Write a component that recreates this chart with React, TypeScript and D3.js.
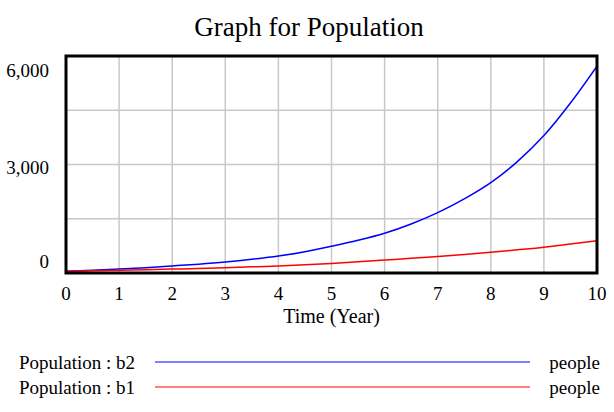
import { useEffect, useRef } from 'react'
import * as d3 from 'd3'

const years = [0, 0.5, 1, 1.5, 2, 2.5, 3, 3.5, 4, 4.5, 5, 5.5, 6, 6.5, 7, 7.5, 8, 8.5, 9, 9.5, 10]
const popB2 = [50, 78, 110, 148, 195, 245, 305, 380, 470, 590, 740, 905, 1100, 1355, 1670, 2050, 2500, 3080, 3800, 4700, 5720]
const popB1 = [48, 60, 74, 90, 108, 126, 147, 170, 195, 228, 265, 310, 358, 405, 458, 512, 572, 640, 712, 800, 892]
const xTicks = [0, 1, 2, 3, 4, 5, 6, 7, 8, 9, 10]
const yGrid = [0, 1500, 3000, 4500, 6000]
const yLabels = [0, 3000, 6000]
const series = [
  { name: 'Population : b2', unit: 'people', values: popB2, color: '#0000ff' },
  { name: 'Population : b1', unit: 'people', values: popB1, color: '#ff0000' },
]

const W = 614
const H = 412
const FONT = '"Liberation Serif", "Times New Roman", serif'

const App = () => {
  const svgRef = useRef<SVGSVGElement>(null)

  useEffect(() => {
    if (!svgRef.current) return
    const svg = d3.select(svgRef.current)
    svg.selectAll('*').remove()

    const plot = { left: 66, right: 597, top: 56, bottom: 273 }
    const x = d3.scaleLinear().domain([0, 10]).range([plot.left, plot.right])
    const y = d3.scaleLinear().domain([0, 6000]).range([plot.bottom, plot.top])

    svg.append('rect').attr('width', W).attr('height', H).attr('fill', '#fff')

    // title
    svg.append('text')
      .attr('x', 309).attr('y', 36)
      .attr('text-anchor', 'middle')
      .style('font-family', FONT).style('font-size', '27px')
      .text('Graph for Population')

    // grid
    svg.append('g').selectAll('line.v')
      .data(xTicks)
      .enter().append('line')
      .attr('x1', d => x(d)).attr('x2', d => x(d))
      .attr('y1', plot.top).attr('y2', plot.bottom)
      .style('stroke', '#c8c8c8').style('stroke-width', '1.5px')

    svg.append('g').selectAll('line.h')
      .data(yGrid)
      .enter().append('line')
      .attr('x1', plot.left).attr('x2', plot.right)
      .attr('y1', d => y(d)).attr('y2', d => y(d))
      .style('stroke', '#c8c8c8').style('stroke-width', '1.5px')

    // lines
    svg.append('clipPath').attr('id', 'plotclip')
      .append('rect')
      .attr('x', plot.left).attr('y', plot.top)
      .attr('width', plot.right - plot.left).attr('height', plot.bottom - plot.top)

    const line = d3.line<number>()
      .x((_, i) => x(years[i]))
      .y(d => y(d))
      .curve(d3.curveMonotoneX)

    svg.append('g').attr('clip-path', 'url(#plotclip)')
      .selectAll('path')
      .data(series)
      .enter().append('path')
      .attr('d', d => line(d.values))
      .style('fill', 'none')
      .style('stroke', d => d.color)
      .style('stroke-width', '1.5px')

    // frame
    svg.append('rect')
      .attr('x', plot.left).attr('y', plot.top)
      .attr('width', plot.right - plot.left).attr('height', plot.bottom - plot.top)
      .style('fill', 'none').style('stroke', '#000').style('stroke-width', '3px')

    // x tick labels
    svg.append('g').selectAll('text')
      .data(xTicks)
      .enter().append('text')
      .attr('x', d => x(d)).attr('y', 300)
      .attr('text-anchor', 'middle')
      .style('font-family', FONT).style('font-size', '19px')
      .text(d => d3.format(',')(d))

    svg.append('text')
      .attr('x', (plot.left + plot.right) / 2).attr('y', 323)
      .attr('text-anchor', 'middle')
      .style('font-family', FONT).style('font-size', '20px')
      .text('Time (Year)')

    // y tick labels (vensim nudges the end labels inside the frame)
    const yOffset = (d: number) => (d === 6000 ? 21 : d === 0 ? -5 : 9)
    svg.append('g').selectAll('text')
      .data(yLabels)
      .enter().append('text')
      .attr('x', 49).attr('y', d => y(d) + yOffset(d))
      .attr('text-anchor', 'end')
      .style('font-family', FONT).style('font-size', '19px')
      .text(d => d3.format(',')(d))

    // legend
    const leg = svg.append('g').selectAll('g')
      .data(series)
      .enter().append('g')
      .attr('transform', (_, i) => `translate(0,${362 + i * 25})`)

    leg.append('text')
      .attr('x', 19).attr('y', 7)
      .style('font-family', FONT).style('font-size', '19px')
      .text(d => d.name)

    leg.append('line')
      .attr('x1', 155).attr('x2', 530)
      .attr('y1', 0).attr('y2', 0)
      .style('stroke', d => d.color).style('stroke-width', '1px')

    leg.append('text')
      .attr('x', 600).attr('y', 7)
      .attr('text-anchor', 'end')
      .style('font-family', FONT).style('font-size', '19px')
      .text(d => d.unit)
  }, [])

  return (
    <svg ref={svgRef} width={W} height={H}
      style={{ position: 'absolute', left: 0, top: 0, display: 'block' }} />
  )
}

export default App
